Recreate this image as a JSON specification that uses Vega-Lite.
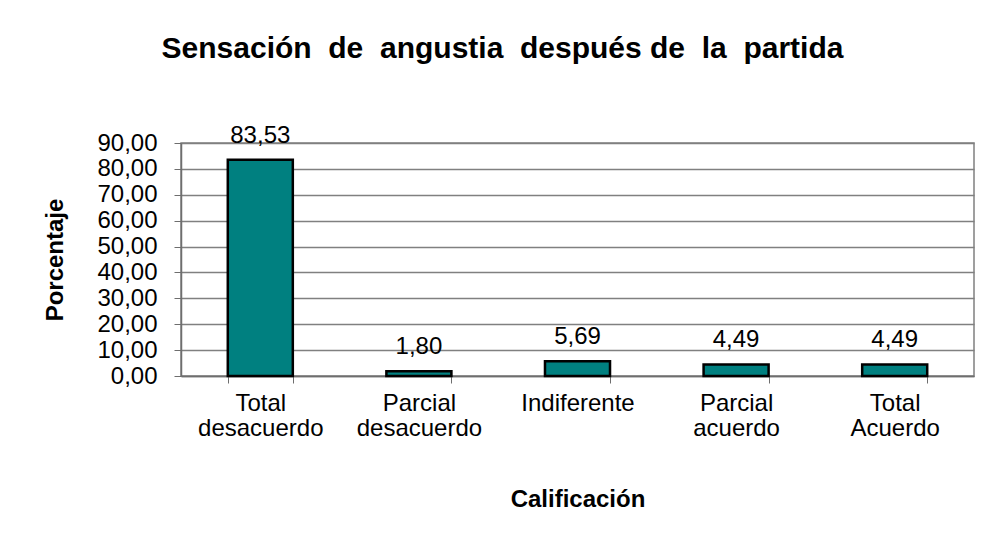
{
  "$schema": "https://vega.github.io/schema/vega-lite/v6.json",
  "autosize": {"type": "none"},
  "padding": {"left": 181, "top": 143, "right": 8, "bottom": 169},
  "width": 793,
  "height": 233,
  "background": "white",
  "config": {
    "locale": {"number": {"decimal": ",", "thousands": ".", "grouping": [3], "currency": ["", " €"]}},
    "font": "Liberation Sans",
    "view": {"stroke": "#808080", "strokeWidth": 1.5},
    "axis": {"labelFont": "Liberation Sans", "titleFont": "Liberation Sans", "labelColor": "#000", "titleColor": "#000"}
  },
  "title": {
    "text": "Sensación\u00a0 de\u00a0 angustia\u00a0 después de\u00a0 la\u00a0 partida",
    "font": "Liberation Sans",
    "fontSize": 30,
    "fontWeight": "bold",
    "color": "#000",
    "anchor": "middle",
    "frame": "group",
    "dx": -75,
    "offset": 60
  },
  "data": {
    "values": [
      {"cat": "Total desacuerdo", "val": 83.53},
      {"cat": "Parcial desacuerdo", "val": 1.80},
      {"cat": "Indiferente", "val": 5.69},
      {"cat": "Parcial acuerdo", "val": 4.49},
      {"cat": "Total Acuerdo", "val": 4.49}
    ]
  },
  "encoding": {
    "x": {
      "field": "cat",
      "type": "nominal",
      "sort": null,
      "scale": {"paddingInner": 0.59, "paddingOuter": 0.295},
      "axis": {
        "title": "Calificación",
        "titleFontSize": 24,
        "titleFontWeight": "bold",
        "titlePadding": 47,
        "labelAngle": 0,
        "labelFontSize": 24,
        "labelLineHeight": 25,
        "labelPadding": 8,
        "labelExpr": "split(datum.label, ' ')",
        "tickBand": "extent",
        "tickSize": 7,
        "tickColor": "#6e6e6e",
        "domainColor": "#6e6e6e",
        "domainWidth": 1.5,
        "grid": false
      }
    },
    "y": {
      "field": "val",
      "type": "quantitative",
      "scale": {"domain": [0, 90], "nice": false},
      "axis": {
        "title": "Porcentaje",
        "titleFontSize": 24,
        "titleFontWeight": "bold",
        "titlePadding": 29,
        "values": [0, 10, 20, 30, 40, 50, 60, 70, 80, 90],
        "format": ".2f",
        "labelFontSize": 24,
        "labelPadding": 17,
        "tickSize": 7,
        "tickColor": "#6e6e6e",
        "domainColor": "#6e6e6e",
        "domainWidth": 1.5,
        "gridColor": "#808080",
        "gridWidth": 1.5,
        "gridOpacity": 1
      }
    }
  },
  "layer": [
    {"mark": {"type": "bar", "fill": "#008080", "stroke": "#000", "strokeWidth": 2.5}},
    {
      "mark": {"type": "text", "fontSize": 24, "baseline": "alphabetic", "dy": -17, "color": "#000"},
      "encoding": {"text": {"field": "val", "type": "quantitative", "format": ".2f"}}
    }
  ]
}
